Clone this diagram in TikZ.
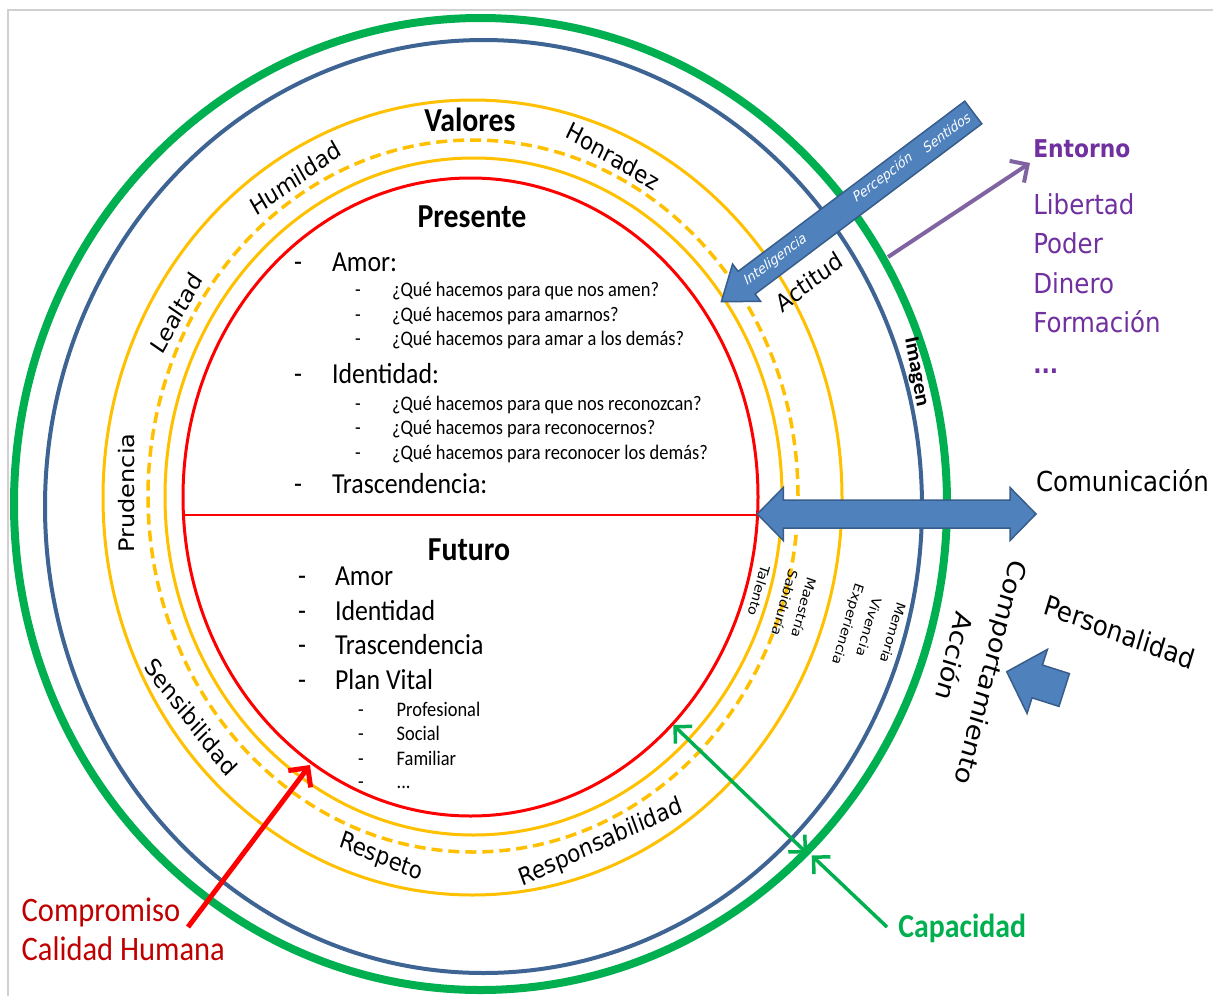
\documentclass[tikz,border=0pt]{standalone}
\usepackage{fontspec}
\setmainfont{Carlito}
\newfontfamily\vfont{DejaVu Sans}
\usetikzlibrary{arrows.meta}

\definecolor{ringgreen}{HTML}{00B050}
\definecolor{ringblue}{HTML}{3E6494}
\definecolor{ringgold}{HTML}{FFC000}
\definecolor{ringred}{HTML}{FF0000}
\definecolor{arrowfill}{HTML}{4F81BD}
\definecolor{arrowedge}{HTML}{385D8A}
\definecolor{envpurple}{HTML}{7030A0}
\definecolor{arrowpurple}{HTML}{8064A2}
\definecolor{deepred}{HTML}{C00000}
\definecolor{framegray}{HTML}{D0D0D0}

\newcommand\pxfont[1]{\fontsize{#1}{#1}\selectfont}

\begin{document}
\begin{tikzpicture}[x=1pt, y=1pt,
  lbl/.style={inner sep=0pt, outer sep=0pt, transform shape, xscale=0.89},
  ringlbl/.style={lbl, font=\vfont\pxfont{24}},
  title/.style={lbl, anchor=base, font=\bfseries\pxfont{33.5}},
  item/.style={lbl, anchor=base west, font=\pxfont{29}},
  ques/.style={lbl, anchor=base west, font=\pxfont{20.7}},
  hyph/.style={lbl, anchor=base, font=\pxfont{#1}},
  arclbl/.style={lbl, font=\vfont\pxfont{14.5}},
  sidelbl/.style={lbl, font=\vfont\pxfont{27.5}},
  envlbl/.style={lbl, anchor=base west, text=envpurple, font=\vfont\pxfont{27.5}},
  arrowtxt/.style={lbl, text=white, font=\vfont\itshape\pxfont{14}},
  blockarrow/.style={fill=arrowfill, draw=arrowedge, line width=1.5pt, line join=miter},
]
\useasboundingbox (0,0) rectangle (1213,-996);
\fill[white] (0,0) rectangle (1213,-996);
\draw[framegray, line width=1.5pt] (8,-996) -- (8,-10) -- (1213,-10);

% concentric rings
\draw[ringgreen, line width=8pt] (480.5,-504) ellipse [x radius=466.5pt, y radius=486pt];
\draw[ringblue, line width=4pt] (483.5,-506.5) ellipse [x radius=438.5pt, y radius=466.5pt];
\draw[ringgold, line width=3pt] (472.5,-497.5) ellipse [x radius=369.5pt, y radius=397.5pt];
\draw[ringgold, line width=3.5pt, dash pattern=on 11pt off 6pt] (473,-496) ellipse [x radius=325pt, y radius=356pt];
\draw[ringgold, line width=3pt] (473.5,-496.5) ellipse [x radius=308.5pt, y radius=338.5pt];
\draw[ringred, line width=3pt] (470.5,-497) ellipse [x radius=287.5pt, y radius=319pt];
\draw[ringred, line width=1.2pt] (185,-515) -- (757,-515);

% values ring
\node[shift={(470,-131)}, title] (valores) {Valores};
\node[shift={(613,-156)}, ringlbl, rotate=-28.3] (honradez) {Honradez};
\node[shift={(295,-178)}, ringlbl, rotate=32.7] (humildad) {Humildad};
\node[shift={(176,-313)}, ringlbl, rotate=58.5] (lealtad) {Lealtad};
\node[shift={(127,-493)}, ringlbl, rotate=90] (prudencia) {Prudencia};
\node[shift={(191,-717)}, ringlbl, rotate=-49.5] (sensibilidad) {Sensibilidad};
\node[shift={(381,-858)}, ringlbl, rotate=-20.6] (respeto) {Respeto};
\node[shift={(601,-843)}, ringlbl, rotate=22.4] (responsabilidad) {Responsabilidad};
\node[shift={(809,-282)}, ringlbl, rotate=34.5] (actitud) {Actitud};
\node[shift={(916,-372)}, lbl, rotate=-78.8, font=\bfseries\pxfont{23}] (imagen) {Imagen};

% present
\node[shift={(472,-227)}, title] (presente) {Presente};
\node[shift={(298,-271.7)}, hyph=29] (h1) {-};
\node[shift={(332,-271.7)}, item] (amor) {Amor:};
\node[shift={(358,-296.7)}, hyph=20.7] (h2) {-};
\node[shift={(392,-296.7)}, ques] (q1) {¿Qué hacemos para que nos amen?};
\node[shift={(358,-321)}, hyph=20.7] (h3) {-};
\node[shift={(392,-321)}, ques] (q2) {¿Qué hacemos para amarnos?};
\node[shift={(358,-345.7)}, hyph=20.7] (h4) {-};
\node[shift={(392,-345.7)}, ques] (q3) {¿Qué hacemos para amar a los demás?};
\node[shift={(298,-383.3)}, hyph=29] (h5) {-};
\node[shift={(332,-383.3)}, item] (identidad) {Identidad:};
\node[shift={(358,-410)}, hyph=20.7] (h6) {-};
\node[shift={(392,-410)}, ques] (q4) {¿Qué hacemos para que nos reconozcan?};
\node[shift={(358,-434.3)}, hyph=20.7] (h7) {-};
\node[shift={(392,-434.3)}, ques] (q5) {¿Qué hacemos para reconocernos?};
\node[shift={(358,-459.3)}, hyph=20.7] (h8) {-};
\node[shift={(392,-459.3)}, ques] (q6) {¿Qué hacemos para reconocer los demás?};
\node[shift={(298,-493.3)}, hyph=29] (h9) {-};
\node[shift={(332,-493.3)}, item] (trasc) {Trascendencia:};

% future
\node[shift={(469,-560)}, title] (futuro) {Futuro};
\node[shift={(302,-585)}, hyph=29] (f1) {-};
\node[shift={(335,-585)}, item] (famor) {Amor};
\node[shift={(302,-620)}, hyph=29] (f2) {-};
\node[shift={(335,-620)}, item] (fident) {Identidad};
\node[shift={(302,-654)}, hyph=29] (f3) {-};
\node[shift={(335,-654)}, item] (ftrasc) {Trascendencia};
\node[shift={(302,-689.3)}, hyph=29] (f4) {-};
\node[shift={(335,-689.3)}, item] (fplan) {Plan Vital};
\node[shift={(361,-716)}, hyph=20.7] (f5) {-};
\node[shift={(396.7,-716)}, ques] (fprof) {Profesional};
\node[shift={(361,-740.7)}, hyph=20.7] (f6) {-};
\node[shift={(396.7,-740.7)}, ques] (fsoc) {Social};
\node[shift={(361,-765)}, hyph=20.7] (f7) {-};
\node[shift={(396.7,-765)}, ques] (ffam) {Familiar};
\node[shift={(361,-788.3)}, hyph=20.7] (f8) {-};
\node[shift={(396.7,-788.3)}, ques] (fetc) {...};

% small labels along the right side of the rings
\node[shift={(804,-608)}, arclbl, rotate=-107] (maestria) {Maestría};
\node[shift={(785,-603)}, arclbl, rotate=-107] (sabiduria) {Sabiduría};
\node[shift={(759,-591)}, arclbl, rotate=-107] (talento) {Talento};
\node[shift={(893,-633)}, arclbl, rotate=-108] (memoria) {Memoria};
\node[shift={(869,-627)}, arclbl, rotate=-108] (vivencia) {Vivencia};
\node[shift={(847,-624)}, arclbl, rotate=-108] (experiencia) {Experiencia};

% outside labels
\node[shift={(1036,-491.7)}, sidelbl, anchor=base west] (comunicacion) {Comunicación};
\node[shift={(989,-672)}, sidelbl, rotate=-105.6] (comportamiento) {Comportamiento};
\node[shift={(955,-657)}, sidelbl, rotate=-105.6] (accion) {Acción};
\node[shift={(1120,-632)}, sidelbl, rotate=-18.7] (personalidad) {Personalidad};

\node[shift={(1033.3,-157.3)}, envlbl, font=\vfont\bfseries\pxfont{24.5}] (entorno) {Entorno};
\node[shift={(1033.3,-214.3)}, envlbl] (libertad) {Libertad};
\node[shift={(1033.3,-253.3)}, envlbl] (poder) {Poder};
\node[shift={(1033.3,-293.3)}, envlbl] (dinero) {Dinero};
\node[shift={(1033.3,-332.3)}, envlbl] (formacion) {Formación};
\node[shift={(1033.3,-373.3)}, envlbl, font=\vfont\bfseries\pxfont{24.5}] (envetc) {...};

\node[shift={(21.7,-921.7)}, lbl, anchor=base west, text=deepred, font=\pxfont{34.3}] (compromiso) {Compromiso};
\node[shift={(21.7,-960)}, lbl, anchor=base west, text=deepred, font=\pxfont{34.3}] (calidad) {Calidad Humana};
\node[shift={(898.3,-937.3)}, lbl, anchor=base west, text=ringgreen, font=\bfseries\pxfont{33.5}] (capacidad) {Capacidad};

% block arrows
\filldraw[blockarrow] (757.3,-514) -- (783.3,-487.5) -- (783.3,-500) -- (1010,-500) -- (1010,-487.5)
  -- (1036,-514) -- (1010,-540.5) -- (1010,-528) -- (783.3,-528) -- (783.3,-540.5) -- cycle;
\begin{scope}[shift={(973.3,-112.5)}, rotate=-143.1]
  \filldraw[blockarrow] (0,14.15) -- (283.5,14.15) -- (283.5,23.35) -- (315,0)
    -- (283.5,-23.35) -- (283.5,-14.15) -- (0,-14.15) -- cycle;
\end{scope}
\begin{scope}[shift={(1064.2,-690)}, rotate=162.35]
  \filldraw[blockarrow] (0,17.2) -- (28.3,17.2) -- (28.3,33.6) -- (60.3,0)
    -- (28.3,-33.6) -- (28.3,-17.2) -- (0,-17.2) -- cycle;
\end{scope}
\node[shift={(775.5,-260)}, arrowtxt, rotate=33.9] (intel) {Inteligencia};
\node[shift={(883,-178)}, arrowtxt, rotate=33.9] (percep) {Percepción};
\node[shift={(946.7,-132.5)}, arrowtxt, rotate=33.9] (sentidos) {Sentidos};

% line arrows
\coordinate (redTail) at (188,-927);
\coordinate (redTip) at (310,-765);
\coordinate (purpleTail) at (888,-257);
\coordinate (purpleTip) at (1030,-163);
\coordinate (capIn) at (673.3,-725);
\coordinate (capOut) at (807,-853.3);
\coordinate (capTail) at (887,-927);
\coordinate (capRim) at (811.7,-855.5);
\draw[ringred, line width=5pt, -{Straight Barb[length=14pt, width=28pt]}] (redTail) -- (redTip);
\draw[arrowpurple, line width=4pt, -{Straight Barb[length=13pt, width=26pt]}] (purpleTail) -- (purpleTip);
\draw[ringgreen, line width=3.5pt, {Straight Barb[length=12pt, width=24pt]}-{Straight Barb[length=12pt, width=24pt]}] (capIn) -- (capOut);
\draw[ringgreen, line width=3.5pt, -{Straight Barb[length=12pt, width=24pt]}] (capTail) -- (capRim);
\end{tikzpicture}
\end{document}
